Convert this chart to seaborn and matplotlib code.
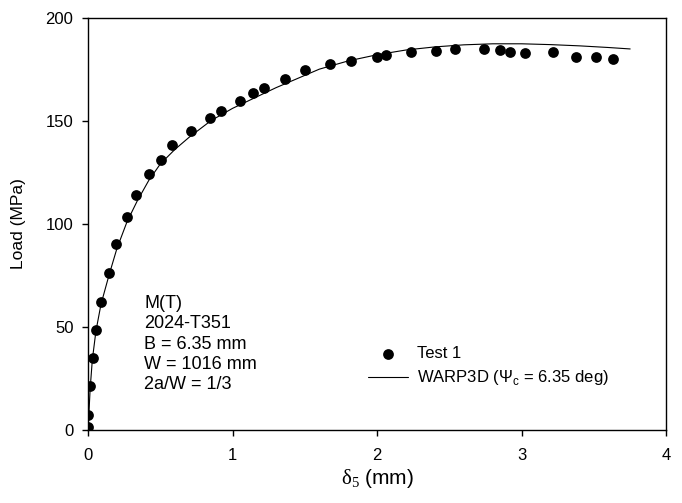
import matplotlib
matplotlib.use('Agg')
import matplotlib.pyplot as plt
import seaborn as sns
import pandas as pd

# Test 1 measurements
test_delta = [0.0, 0.002, 0.014, 0.033, 0.055, 0.088, 0.144, 0.194, 0.272, 0.333,
              0.423, 0.508, 0.584, 0.714, 0.846, 0.922, 1.049, 1.144, 1.220, 1.361,
              1.504, 1.673, 1.816, 1.997, 2.061, 2.237, 2.408, 2.537, 2.738, 2.851,
              2.921, 3.023, 3.219, 3.378, 3.517, 3.633]
test_load = [1.6, 7.4, 21.2, 34.8, 48.5, 62.2, 76.1, 90.0, 103.4, 113.9,
             124.3, 131.1, 138.0, 145.0, 151.4, 154.7, 159.7, 163.5, 165.8, 170.3,
             174.4, 177.5, 179.1, 181.0, 181.8, 183.1, 183.8, 184.6, 184.9, 184.2,
             183.4, 182.9, 183.3, 180.7, 180.7, 179.9]

# WARP3D prediction
warp_delta = [0.0, 0.005, 0.015, 0.03, 0.055, 0.09, 0.145, 0.2, 0.27, 0.34,
              0.42, 0.5, 0.6, 0.7, 0.85, 1.0, 1.15, 1.3, 1.45, 1.6,
              1.8, 2.0, 2.2, 2.4, 2.6, 2.8, 3.0, 3.2, 3.4, 3.6, 3.75]
warp_load = [0.0, 6.0, 20.0, 34.0, 48.0, 61.0, 75.0, 88.0, 101.0, 111.0,
             121.0, 129.0, 136.0, 142.0, 150.0, 156.0, 161.0, 166.0, 170.5, 175.0,
             179.0, 182.0, 184.3, 185.8, 186.8, 187.3, 187.3, 186.9, 186.3, 185.5, 184.8]

x_ticks = [0, 1, 2, 3, 4]
y_ticks = [0, 50, 100, 150, 200]

specimen_info = ['M(T)', '2024-T351', 'B = 6.35 mm', 'W = 1016 mm', '2a/W = 1/3']

sns.set_style('ticks')
plt.rcParams['font.family'] = ['Liberation Sans', 'DejaVu Sans']
plt.rcParams['mathtext.fontset'] = 'custom'
plt.rcParams['mathtext.rm'] = 'Liberation Serif'
plt.rcParams['mathtext.sf'] = 'Liberation Sans'
plt.rcParams['axes.linewidth'] = 1.0
plt.rcParams['text.color'] = 'black'
plt.rcParams['axes.labelcolor'] = 'black'

test_df = pd.DataFrame({'delta': test_delta, 'load': test_load})
warp_df = pd.DataFrame({'delta': warp_delta, 'load': warp_load})

fig = plt.figure(figsize=(6.82, 5.03), dpi=100)
ax = fig.add_axes([0.129, 0.145, 0.848, 0.820])

sns.lineplot(data=warp_df, x='delta', y='load', color='black', linewidth=0.8,
             label='WARP3D (\u03a8$_\\mathsf{c}$ = 6.35 deg)', ax=ax, zorder=2)
sns.scatterplot(data=test_df, x='delta', y='load', color='black', s=60,
                edgecolor='black', linewidth=0, label='Test 1', ax=ax, zorder=3)

ax.set_xlim(0, 4)
ax.set_ylim(0, 200)
ax.set_xticks(x_ticks)
ax.set_yticks(y_ticks)
ax.tick_params(axis='both', direction='out', length=4, width=1, labelsize=12,
               colors='black', top=False, right=False)
ax.tick_params(axis='x', pad=9)
ax.tick_params(axis='y', pad=6.5)
for side in ['top', 'right', 'left', 'bottom']:
    ax.spines[side].set_visible(True)
    ax.spines[side].set_color('black')

ax.set_xlabel(r'$\mathrm{\delta_5}$ (mm)', fontsize=15, labelpad=3)
ax.set_ylabel('Load (MPa)', fontsize=12.5, labelpad=14)

handles, labels = ax.get_legend_handles_labels()
order = [labels.index('Test 1'), 1 - labels.index('Test 1')]
ax.legend([handles[i] for i in order], [labels[i] for i in order],
          loc='upper left', bbox_to_anchor=(0.484, 0.204), frameon=False,
          fontsize=12, borderpad=0, borderaxespad=0, handlelength=2.4,
          handletextpad=0.55, labelspacing=0.45)

ax.text(0.097, 0.327, '\n'.join(specimen_info), transform=ax.transAxes,
        ha='left', va='top', fontsize=13, linespacing=1.245)

fig.savefig('out.png', dpi=100)
